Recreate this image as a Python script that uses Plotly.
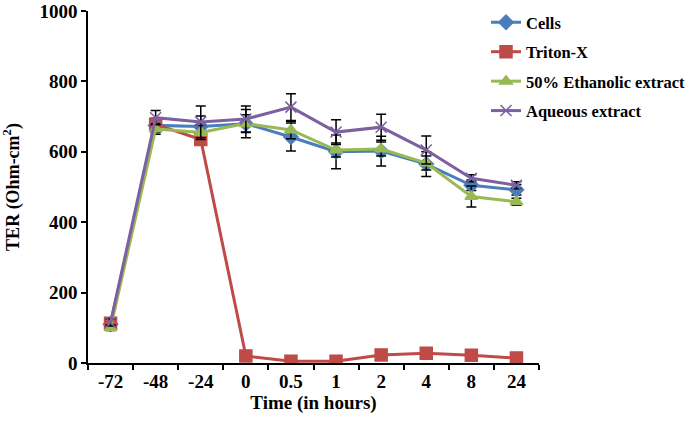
import plotly.graph_objects as go

categories = ["-72", "-48", "-24", "0", "0.5", "1", "2", "4", "8", "24"]
cells = [110, 675, 672, 680, 642, 600, 602, 565, 505, 492]
cells_err = [10, 20, 30, 40, 40, 48, 42, 35, 15, 15]
triton = [113, 678, 635, 20, 5, 5, 23, 28, 22, 14]
ethanolic = [100, 665, 655, 680, 662, 605, 608, 568, 473, 458]
ethanolic_err = [8, 15, 20, 25, 25, 20, 20, 20, 30, 10]
aqueous = [115, 697, 685, 693, 727, 656, 670, 605, 525, 505]
aqueous_err = [10, 20, 45, 37, 38, 35, 37, 40, 10, 10]

FONT = "Liberation Serif"

fig = go.Figure()

def add(name, y, err, color, symbol, size, group):
    kw = {}
    if err is not None:
        kw["error_y"] = dict(type="data", array=err, visible=True, color="black", thickness=1.5, width=5)
    fig.add_trace(go.Scatter(
        x=categories, y=y, name=name, mode="lines+markers",
        line=dict(color=color, width=3),
        marker=dict(color=color, symbol=symbol, size=size, line=dict(color=color, width=1.5)),
        legendgroup=group,
        **kw
    ))

add("Cells", cells, cells_err, "#4A7EBB", "diamond", 11, "a")
add("Triton-X", triton, None, "#BE4B48", "square", 12, "b")
add("50% Ethanolic extract", ethanolic, ethanolic_err, "#98B954", "triangle-up", 11, "c")
add("Aqueous extract", aqueous, aqueous_err, "#7D60A0", "x-thin", 11, "d")

fig.update_layout(
    width=685, height=422,
    margin=dict(l=88, r=146, t=11, b=59, autoexpand=False),
    plot_bgcolor="white", paper_bgcolor="white",
    font=dict(family=FONT, color="black", size=16),
    legend=dict(x=0.8825, y=1.017, xanchor="left", yanchor="top", borderwidth=0,
                font=dict(family=FONT, size=16.5, color="black", weight="bold"),
                tracegroupgap=5, bgcolor="rgba(0,0,0,0)"),
    xaxis=dict(
        type="category", range=[-0.5, 9.5], tickson="boundaries",
        showline=True, linecolor="black", linewidth=1.5,
        ticks="outside", ticklen=5, tickcolor="black", tickwidth=1.5,
        showgrid=False, zeroline=False, automargin=False,
        tickfont=dict(family=FONT, size=19, color="black", weight="bold"),
        title=dict(text="Time (in hours)", font=dict(family=FONT, size=19, color="black", weight="bold"), standoff=2),
    ),
    yaxis=dict(
        range=[0, 1000], tickvals=[0, 200, 400, 600, 800, 1000],
        showline=True, linecolor="black", linewidth=1.5,
        ticks="outside", ticklen=5, tickcolor="black", tickwidth=1.5,
        showgrid=False, zeroline=False, automargin=False, ticklabeloverflow="allow",
        tickfont=dict(family=FONT, size=19, color="black", weight="bold"),
        title=dict(text="TER (Ohm-cm<sup>2</sup>)", font=dict(family=FONT, size=18, color="black", weight="bold"), standoff=24),
    ),
)

fig.write_html("out.html", config={"displayModeBar": False},
               post_script="document.body.style.margin='0';")
